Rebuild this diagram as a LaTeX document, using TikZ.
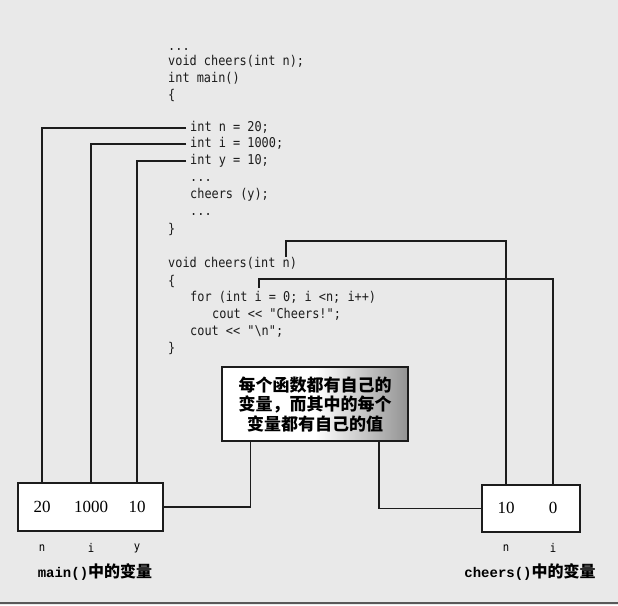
\documentclass[tikz,border=0pt]{standalone}
\usepackage{fontspec}
\setmainfont{Liberation Serif}
\newfontfamily\codefont[FakeStretch=0.88]{DejaVu Sans Mono}
\newfontfamily\cjk{Noto Sans CJK SC}
\newfontfamily\lblmono{Liberation Mono}
\usetikzlibrary{calc}
\definecolor{paper}{RGB}{233,233,233}
\definecolor{ink}{RGB}{28,28,28}
\tikzset{
    codeline/.style={anchor=west, inner sep=0pt, inner xsep=4pt, text height=9pt, text depth=3pt,
        font=\codefont\fontsize{13.5}{15}\selectfont, text=ink},
    varbox/.style={draw=ink, fill=white, line width=1.5pt, inner sep=0pt},
    varval/.style={font=\fontsize{17}{20}\selectfont, inner sep=0pt},
    varname/.style={font=\codefont\fontsize{12}{14}\selectfont, inner sep=0pt},
    boxtitle/.style={font=\fontsize{16}{18}\selectfont, inner sep=0pt},
    notebox/.style={draw=ink, line width=1.5pt, left color=white, right color=gray!85, middle color=white,
        minimum width=186pt, minimum height=74pt, inner sep=0pt, align=center,
        font=\cjk\bfseries\fontsize{17}{19.5}\selectfont},
    link/.style={draw=ink, line width=1.5pt}
}
\begin{document}
\begin{tikzpicture}[x=1pt,y=-1pt]
    \fill[paper] (0,0) rectangle (618,605);
    \useasboundingbox (0,0) rectangle (618,605);
    \draw[gray!70!black, line width=2pt] (0,603) -- (618,603);

    \node[codeline] (dots1) at (164,47) {...};
    \node[codeline] (proto) at (164,62) {void cheers(int n);};
    \node[codeline] (mainhead) at (164,79) {int main()};
    \node[codeline] (mainopen) at (164,96) {\{};
    \node[codeline] (decln) at (186,128) {int n = 20;};
    \node[codeline] (decli) at (186,144) {int i = 1000;};
    \node[codeline] (decly) at (186,161) {int y = 10;};
    \node[codeline] (dots2) at (186,178) {...};
    \node[codeline] (callc) at (186,195) {cheers (y);};
    \node[codeline] (dots3) at (186,212) {...};
    \node[codeline] (mainclose) at (164,230) {\}};
    \node[codeline] (cheershead) at (164,264) {void cheers(int n)};
    \node[codeline] (cheersopen) at (164,282) {\{};
    \node[codeline] (forloop) at (186,298) {for (int i = 0; i <n; i++)};
    \node[codeline] (coutc) at (208,315) {cout << "Cheers!";};
    \node[codeline] (coutn) at (186,332) {cout << "\textbackslash n";};
    \node[codeline] (cheersclose) at (164,349) {\}};

    \node[varbox, minimum width=145pt, minimum height=48pt] (mainbox) at (90.5,507) {};
    \node[varval] (mv20) at (42,507) {20};
    \node[varval] (mv1000) at (91,507) {1000};
    \node[varval] (mv10) at (137,507) {10};
    \node[varname] (mnn) at (42,548) {n};
    \node[varname] (mni) at (91,548) {i};
    \node[varname] (mny) at (137,548) {y};
    \node[boxtitle] (maintitle) at (95,572) {{\lblmono\bfseries\fontsize{14}{16}\selectfont main()}{\cjk\bfseries 中的变量}};

    \node[varbox, minimum width=98pt, minimum height=47pt] (cheersbox) at (531,508.5) {};
    \node[varval] (cv10) at (506,508) {10};
    \node[varval] (cv0) at (553,508) {0};
    \node[varname] (cnn) at (506,548) {n};
    \node[varname] (cni) at (553,548) {i};
    \node[boxtitle] (cheerstitle) at (530,572) {{\lblmono\bfseries\fontsize{14}{16}\selectfont cheers()}{\cjk\bfseries 中的变量}};

    \node[notebox] (note) at (315,404) {每个函数都有自己的\\变量，而其中的每个\\变量都有自己的值};

    \coordinate (argn) at (286,257);
    \coordinate (loopi) at (259,288);

    \draw[link] (decln.west) -| (mv20 |- mainbox.north);
    \draw[link] (decli.west) -| (mv1000 |- mainbox.north);
    \draw[link] (decly.west) -| (mv10 |- mainbox.north);
    \draw[link] (argn) -- ++(0,-16) -| (cv10 |- cheersbox.north);
    \draw[link] (loopi) -- ++(0,-9) -| (cv0 |- cheersbox.north);
    \draw[link] (mainbox.east) -| ($(note.south west)+(29,0)$);
    \draw[link] (cheersbox.west) -| ($(note.south east)+(-30,0)$);
\end{tikzpicture}
\end{document}
